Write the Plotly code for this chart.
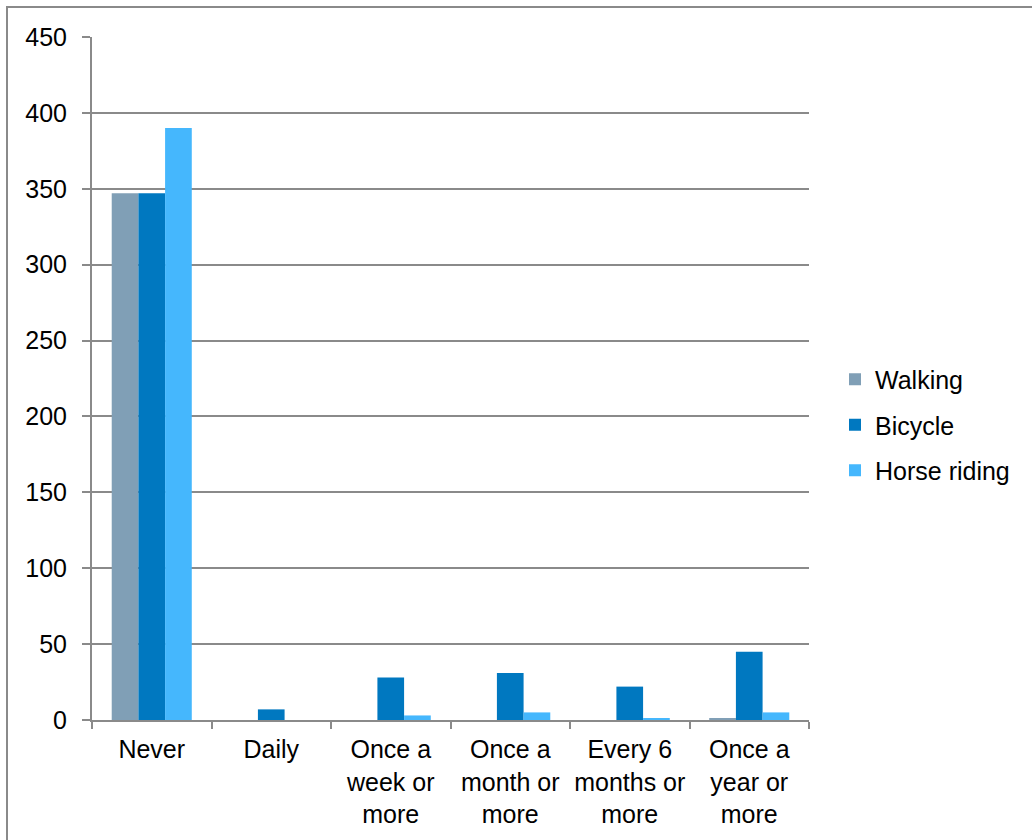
import plotly.graph_objects as go

categories = ["Never", "Daily", "Once a<br>week or<br>more", "Once a<br>month or<br>more",
              "Every 6<br>months or<br>more", "Once a<br>year or<br>more"]
walking = [347, 0, 0, 0, 0, 1]
bicycle = [347, 7, 28, 31, 22, 45]
horse_riding = [390, 0, 3, 5, 1, 5]
y_ticks = [0, 50, 100, 150, 200, 250, 300, 350, 400, 450]

GRID = "#8a8a8a"
FONT = "Liberation Sans, Arial, sans-serif"
FS = 25

fig = go.Figure()
series = [("Walking", walking, "#809fb6"),
          ("Bicycle", bicycle, "#0078c0"),
          ("Horse riding", horse_riding, "#45b7fd")]
for i, (name, vals, col) in enumerate(series):
    fig.add_trace(go.Bar(name=name, x=categories, y=vals, marker_color=col,
                         marker_line_width=0, legendgroup=f"g{i}"))

W, H = 1032, 840
L, R, T, B = 92, 223, 37, 120
pw, ph = W - L - R, H - T - B

fig.update_layout(
    width=W, height=H,
    margin=dict(l=L, r=R, t=T, b=B, autoexpand=False),
    paper_bgcolor="white", plot_bgcolor="white",
    font=dict(family=FONT, size=FS, color="#000000"),
    barmode="group", bargap=0.33, bargroupgap=0,
    showlegend=True,
    legend=dict(x=1 + (835 - L - pw) / pw, xanchor="left",
                y=(H - B - 425) / ph, yanchor="middle",
                font=dict(size=FS), traceorder="grouped", tracegroupgap=10,
                itemclick=False, bgcolor="rgba(0,0,0,0)"),
    xaxis=dict(type="category", showline=True, linecolor=GRID, linewidth=2,
               ticks="outside", tickson="boundaries", ticklen=7, tickwidth=2,
               tickcolor=GRID, showgrid=False, ticklabelstandoff=6, tickangle=0,
               automargin=False, tickfont=dict(size=FS)),
    yaxis=dict(range=[0, 450], tickvals=y_ticks, showline=True, linecolor=GRID,
               linewidth=2, ticks="outside", ticklen=8, tickwidth=2, tickcolor=GRID,
               showgrid=True, gridcolor=GRID, gridwidth=2, zeroline=False,
               automargin=False, ticklabelstandoff=10, tickfont=dict(size=FS)),
    shapes=[dict(type="rect", xref="paper", yref="paper",
                 x0=(7 - L) / pw, x1=1 + (R + 50) / pw,
                 y0=-(B + 50) / ph, y1=1 + (T - 7) / ph,
                 line=dict(color=GRID, width=2), fillcolor="rgba(0,0,0,0)",
                 layer="below")],
)

fig.write_html("out.html")
